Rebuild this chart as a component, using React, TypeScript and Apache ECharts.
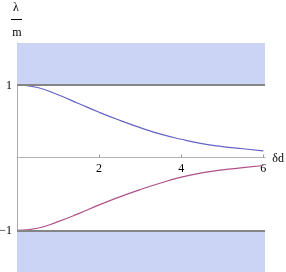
import React, { useEffect, useRef } from "react";
import * as echarts from "echarts";

const xValues = [0, 0.5, 1, 1.5, 2, 2.5, 3, 3.5, 4, 4.5, 5, 5.5, 6];
const upperBranch = [1.0, 0.96, 0.86, 0.74, 0.62, 0.51, 0.41, 0.32, 0.25, 0.19, 0.15, 0.12, 0.09];
const lowerBranch = [-1.0, -0.97, -0.88, -0.77, -0.65, -0.54, -0.44, -0.35, -0.27, -0.21, -0.17, -0.14, -0.11];
const xTicks = [2, 4, 6];
const yTicks = [-1, 1];

const FONT = "Liberation Serif";

export default function App() {
  const ref = useRef<HTMLDivElement>(null);
  useEffect(() => {
    if (!ref.current) return;
    const chart = echarts.init(ref.current, null, { renderer: "svg" });
    const yMin = -1.57;
    const yMax = 1.57;
    const gridTop = 43;
    const gridHeight = 272 - gridTop;
    const zeroOffset = -(gridHeight * (0 - yMin)) / (yMax - yMin);
    chart.setOption({
      animation: false,
      grid: { left: 17, right: 21, top: gridTop, bottom: 0, containLabel: false, outerBoundsMode: "none" },
      xAxis: {
        type: "value",
        min: 0,
        max: 6.04,
        interval: 2,
        position: "bottom",
        offset: zeroOffset,
        name: "δd",
        nameLocation: "end",
        nameGap: 7,
        nameTextStyle: { fontFamily: FONT, fontSize: 12, color: "#000" },
        axisLine: { onZero: false, lineStyle: { color: "#b3b3b3", width: 1 } },
        axisTick: { show: true, inside: true, length: 3, lineStyle: { color: "#999" }, customValues: xTicks },
        axisLabel: {
          customValues: xTicks,
          fontFamily: FONT,
          fontSize: 12,
          color: "#000",
          margin: 4,
        },
        splitLine: { show: false },
      },
      yAxis: {
        type: "value",
        min: yMin,
        max: yMax,
        axisLine: { onZero: true, lineStyle: { color: "#a8a8a8", width: 1 } },
        axisTick: { show: false },
        axisLabel: {
          customValues: yTicks,
          fontFamily: FONT,
          fontSize: 12,
          color: "#000",
          margin: 5,
          formatter: (v: number) => (v < 0 ? "\u2212" + Math.abs(v) : String(v)),
        },
        splitLine: { show: false },
      },
      graphic: [
        { type: "text", x: 16, y: 7, style: { text: "λ", fontFamily: FONT, fontSize: 12, fill: "#000", align: "center", verticalAlign: "middle" } },
        { type: "line", shape: { x1: 11, y1: 19.5, x2: 22, y2: 19.5 }, style: { stroke: "#000", lineWidth: 1 } },
        { type: "text", x: 17, y: 32, style: { text: "m", fontFamily: FONT, fontSize: 12, fill: "#000", align: "center", verticalAlign: "middle" } },
      ],
      series: [
        {
          type: "line",
          data: [],
          silent: true,
          markArea: {
            silent: true,
            itemStyle: { color: "#ccd4f6", opacity: 1 },
            data: [
              [{ yAxis: 1 }, { yAxis: yMax }],
              [{ yAxis: yMin }, { yAxis: -1 }],
            ],
          },
          markLine: {
            silent: true,
            symbol: "none",
            label: { show: false },
            lineStyle: { color: "#858585", width: 2, type: "solid" },
            data: [{ yAxis: 1 }, { yAxis: -1 }],
          },
        },
        {
          type: "line",
          data: xValues.map((x, i) => [x, upperBranch[i]]),
          smooth: true,
          showSymbol: false,
          lineStyle: { color: "#6464c4", width: 1.2 },
        },
        {
          type: "line",
          data: xValues.map((x, i) => [x, lowerBranch[i]]),
          smooth: true,
          showSymbol: false,
          lineStyle: { color: "#b05088", width: 1.2 },
        },
      ],
    });
    return () => chart.dispose();
  }, []);
  return <div ref={ref} style={{ position: "fixed", left: 0, top: 0, width: 286, height: 272 }} />;
}
